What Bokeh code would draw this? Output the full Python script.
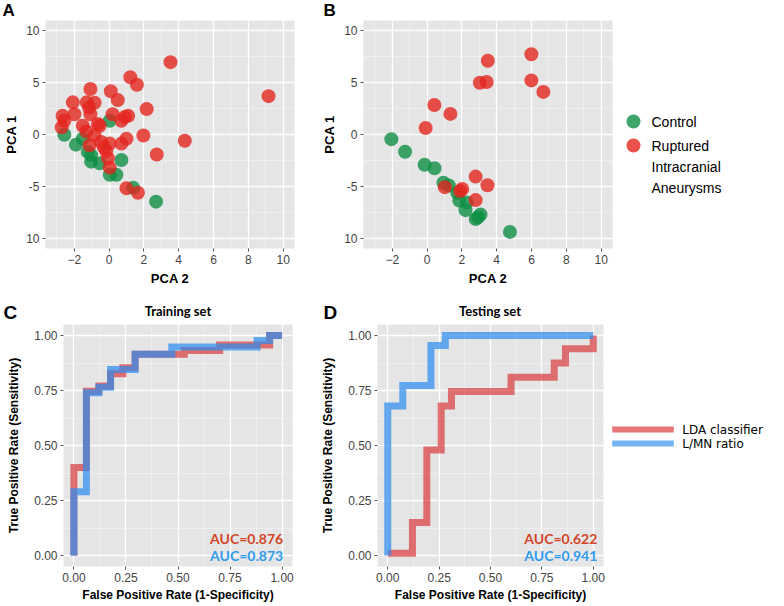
from bokeh.plotting import figure
from bokeh.layouts import row, column
from bokeh.models import Range1d, FixedTicker, Label
from bokeh.core.properties import value
from bokeh.embed import file_html
from bokeh.resources import INLINE

# ---------------- data ----------------
# Panel A (training set PCA): x = PCA 2, y = PCA 1
a_ctrl_x = [0.04, -2.57, -1.90, -1.51, -1.03, -1.03, -0.54, 0.71, 0.04, 0.42, 1.39, 2.70, -1.22]
a_ctrl_y = [1.33, -0.03, -0.98, -0.41, -1.99, -2.62, -2.78, -2.46, -3.89, -3.89, -5.15, -6.48, -1.68]
a_ria_x = [3.53, 9.16, 1.22, 1.60, -1.07, 0.10, 0.50, -2.08, -1.28, -0.83, 2.16, -2.67, -1.99,
           -1.07, -1.15, 0.20, 1.10, 0.90, 0.71, -2.57, -2.72, -1.51, -0.54, -0.64, -0.83, 1.97,
           4.35, 1.00, 0.71, 0.04, -0.45, 2.74, -0.16, -0.06, 0.04, 1.00, 1.66, -1.12, -1.30, -0.30]
a_ria_y = [6.98, 3.70, 5.53, 4.80, 4.39, 4.17, 3.32, 3.10, 3.10, 3.06, 2.45, 1.80, 1.96,
           1.96, 2.60, 1.96, 1.80, 1.70, 1.33, 1.33, 0.69, 0.85, 0.85, 1.01, -0.09, -0.09,
           -0.60, -0.41, -0.88, -0.88, -0.73, -1.93, -1.60, -2.30, -3.20, -5.18, -5.62, -1.04, 0.30, -1.20]

# Panel B (testing set PCA)
b_ctrl_x = [-2.05, -1.26, -0.14, 0.43, 0.94, 1.25, 1.73, 1.85, 2.28, 2.21, 2.79, 3.07, 2.93, 4.76]
b_ctrl_y = [-0.45, -1.66, -2.92, -3.25, -4.66, -4.91, -5.63, -6.38, -6.55, -7.30, -8.15, -7.72, -7.98, -9.40]
b_ria_x = [3.49, 5.99, 5.99, 6.68, 3.03, 3.42, 0.42, 1.34, -0.08, 2.79, 3.47, 1.02, 2.02, 1.90, 2.79]
b_ria_y = [7.12, 7.75, 5.22, 4.11, 5.00, 5.06, 2.85, 1.99, 0.63, -4.06, -4.90, -5.08, -5.25, -5.46, -6.33]

pca_x_ticks = [-2, 0, 2, 4, 6, 8, 10]
pca_x_minor = [-3, -1, 1, 3, 5, 7, 9]
pca_y_ticks = [-10, -5, 0, 5, 10]
pca_y_labels = ["10", "-5", "0", "5", "10"]
pca_y_minor = [-7.5, -2.5, 2.5, 7.5]
group_labels = ["Control", "Ruptured\nIntracranial\nAneurysms"]

# Panel C (training ROC)
c_lda_fpr = [0, 0, 0.06, 0.06, 0.12, 0.12, 0.176, 0.176, 0.235, 0.235, 0.294, 0.294, 0.53, 0.53, 0.70, 0.70, 0.94, 0.94, 1.0]
c_lda_tpr = [0, 0.40, 0.40, 0.747, 0.747, 0.77, 0.77, 0.826, 0.826, 0.853, 0.853, 0.915, 0.915, 0.932, 0.932, 0.957, 0.957, 1.0, 1.0]
c_lmn_fpr = [0, 0, 0.06, 0.06, 0.12, 0.12, 0.176, 0.176, 0.294, 0.294, 0.47, 0.47, 0.88, 0.88, 0.94, 0.94, 1.0]
c_lmn_tpr = [0, 0.29, 0.29, 0.74, 0.74, 0.765, 0.765, 0.845, 0.845, 0.915, 0.915, 0.948, 0.948, 0.977, 0.977, 1.0, 1.0]
c_auc = [0.876, 0.873]

# Panel D (testing ROC)
d_lda_fpr = [0, 0.12, 0.12, 0.19, 0.19, 0.26, 0.26, 0.31, 0.31, 0.60, 0.60, 0.81, 0.81, 0.865, 0.865, 1.0, 1.0]
d_lda_tpr = [0.01, 0.01, 0.15, 0.15, 0.48, 0.48, 0.68, 0.68, 0.745, 0.745, 0.81, 0.81, 0.875, 0.875, 0.94, 0.94, 1.0]
d_lmn_fpr = [0, 0, 0.073, 0.073, 0.21, 0.21, 0.28, 0.28, 1.0]
d_lmn_tpr = [0, 0.68, 0.68, 0.773, 0.773, 0.955, 0.955, 1.0, 1.0]
d_auc = [0.622, 0.941]

roc_ticks = [0, 0.25, 0.5, 0.75, 1.0]
roc_labels = ["0.00", "0.25", "0.50", "0.75", "1.00"]
roc_minor = [0.125, 0.375, 0.625, 0.875]
roc_series = ["LDA classifier", "L/MN ratio"]
panel_titles = ["Training set", "Testing set"]
panel_letters = ["A", "B", "C", "D"]

# ---------------- styles ----------------
GREEN = "#0F8F45"
RED = "#E3261E"
LDA_C = "#D92B30"
LMN_C = "#2A8CF0"
AUC_COLORS = ["#D2452B", "#2F9BEF"]
PANEL_BG = "#E5E5E5"
TICK_FONT = "Liberation Sans"

# layout (px)
R1_STRIP, R1_FRAME, R1_BOT = 20, 228, 49
R2_STRIP, R2_FRAME, R2_BOT = 27, 242, 38


def make_fig(width, height, xr, yr, mbl, mbr, mbt, mbb):
    p = figure(width=width, height=height, x_range=Range1d(*xr), y_range=Range1d(*yr),
               toolbar_location=None, output_backend="svg", title=None,
               min_border_left=mbl, min_border_right=mbr,
               min_border_top=mbt, min_border_bottom=mbb)
    p.background_fill_color = PANEL_BG
    p.border_fill_color = "white"
    p.outline_line_color = None
    for ax in (p.xaxis[0], p.yaxis[0]):
        ax.axis_line_color = None
        ax.major_tick_line_color = "#555555"
        ax.major_tick_out = 3
        ax.major_tick_in = 0
        ax.minor_tick_out = 0
        ax.minor_tick_in = 0
        ax.major_label_text_font = TICK_FONT
        ax.major_label_text_font_size = "12px"
        ax.major_label_text_color = "#444444"
        ax.major_label_standoff = 3
        ax.axis_label_text_font = TICK_FONT
        ax.axis_label_text_font_style = "bold"
        ax.axis_label_text_color = "black"
    for g in (p.xgrid[0], p.ygrid[0]):
        g.grid_line_color = "white"
        g.grid_line_width = 1.3
        g.minor_grid_line_color = "#F4F4F4"
        g.minor_grid_line_width = 0.7
    return p


def blank(width, height, top=0, bot=0):
    # pixel-unit ranges so that texts/legend marks are placed by pixel offset
    p = figure(width=width, height=top + height + bot, x_range=Range1d(0, width),
               y_range=Range1d(top + height, top),
               toolbar_location=None, output_backend="svg", title=None,
               min_border_left=0, min_border_right=0, min_border_top=top, min_border_bottom=bot,
               x_axis_location=None, y_axis_location=None)
    p.xgrid.visible = False
    p.ygrid.visible = False
    p.outline_line_color = None
    p.background_fill_color = "white"
    p.border_fill_color = "white"
    return p


def strip(width, height, letter, lx, ly, size, title=None, tx=None, ty=None):
    s = blank(width, height)
    s.text([lx], [ly], text=[letter], text_baseline="middle", text_align="left",
           text_font=value(TICK_FONT), text_font_style="bold", text_font_size=size,
           text_color="black")
    if title is not None:
        s.text([tx], [ty], text=[title], text_baseline="middle", text_align="center",
               text_font=value("Lato"), text_font_style="bold", text_font_size="13px",
               text_color="black")
    return s


def pca_fig(width, mbl, mbr, cx, cy, rx, ry):
    p = make_fig(width, R1_FRAME + R1_BOT, (-3.65, 10.65), (-11, 11), mbl, mbr, 0, R1_BOT)
    p.xaxis.ticker = FixedTicker(ticks=pca_x_ticks, minor_ticks=pca_x_minor)
    p.yaxis.ticker = FixedTicker(ticks=pca_y_ticks, minor_ticks=pca_y_minor)
    p.yaxis.major_label_overrides = {t: l for t, l in zip(pca_y_ticks, pca_y_labels)}
    p.xaxis.axis_label = "PCA 2"
    p.yaxis.axis_label = "PCA 1"
    p.xaxis.axis_label_text_font_size = "13px"
    p.yaxis.axis_label_text_font_size = "13px"
    p.xaxis.axis_label_standoff = 4
    p.yaxis.axis_label_standoff = 4
    p.scatter(cx, cy, size=14, color=GREEN, alpha=0.8, line_color=None)
    p.scatter(rx, ry, size=14, color=RED, alpha=0.8, line_color=None)
    return p


def roc_fig(width, mbl, mbr, lda, lmn, auc, auc_x):
    p = make_fig(width, R2_FRAME + R2_BOT, (-0.05, 1.05), (-0.05, 1.05), mbl, mbr, 0, R2_BOT)
    p.xaxis.ticker = FixedTicker(ticks=roc_ticks, minor_ticks=roc_minor)
    p.yaxis.ticker = FixedTicker(ticks=roc_ticks, minor_ticks=roc_minor)
    ov = {t: l for t, l in zip(roc_ticks, roc_labels)}
    p.xaxis.major_label_overrides = ov
    p.yaxis.major_label_overrides = ov
    p.xaxis.axis_label = "False Positive Rate (1-Specificity)"
    p.yaxis.axis_label = "True Positive Rate (Sensitivity)"
    p.xaxis.axis_label_text_font_size = "12px"
    p.yaxis.axis_label_text_font_size = "12px"
    p.xaxis.axis_label_standoff = 3
    p.yaxis.axis_label_standoff = 10
    p.line(lda[0], lda[1], line_color=LDA_C, line_alpha=0.65, line_width=7, line_join="miter")
    p.line(lmn[0], lmn[1], line_color=LMN_C, line_alpha=0.7, line_width=7, line_join="miter")
    for v, yy, col in zip(auc, [0.077, 0.0], AUC_COLORS):
        p.add_layout(Label(x=auc_x, y=yy, text=f"AUC={v:.3f}", text_align="right",
                           text_baseline="middle", text_font="Lato", text_font_style="bold",
                           text_font_size="14px", text_color=col))
    return p


# ---------------- row 1 ----------------
pA = pca_fig(318, 45, 24, a_ctrl_x, a_ctrl_y, a_ria_x, a_ria_y)
sA = strip(318, R1_STRIP, panel_letters[0], 2, 10, "17px")
pB = pca_fig(302, 45, 8, b_ctrl_x, b_ctrl_y, b_ria_x, b_ria_y)
sB = strip(302, R1_STRIP, panel_letters[1], 5, 10, "17px")

legA = blank(164, R1_FRAME, R1_STRIP, R1_BOT)
legA.scatter([13, 13], [121, 145], size=14, color=[GREEN, RED], alpha=0.8, line_color=None)
legA.text([31, 31], [113, 137], text=group_labels, text_baseline="top", text_align="left",
          text_font=value(TICK_FONT), text_font_size="14px", text_color="black",
          text_line_height=1.32)

# ---------------- row 2 ----------------
pC = roc_fig(318, 63, 26, (c_lda_fpr, c_lda_tpr), (c_lmn_fpr, c_lmn_tpr), c_auc, 1.005)
sC = strip(318, R2_STRIP, panel_letters[2], 3, 15, "19px", panel_titles[0], 177.5, 13)
pD = roc_fig(292, 58, 7, (d_lda_fpr, d_lda_tpr), (d_lmn_fpr, d_lmn_tpr), d_auc, 1.02)
sD = strip(292, R2_STRIP, panel_letters[3], 5, 15, "19px", panel_titles[1], 171.5, 13)

legD = blank(174, R2_FRAME, R2_STRIP, R2_BOT)
legD.segment(x0=[1.7, 1.7], y0=[132, 146], x1=[63.3, 63.3], y1=[132, 146],
             line_color=[LDA_C, LMN_C], line_alpha=0.65, line_width=6)
legD.text([71.7, 71.7], [132, 146], text=roc_series, text_baseline="middle", text_align="left",
          text_font=value("DejaVu Sans"), text_font_size="12px", text_color="black")

layout = column(
    row(column(sA, row(pA)), column(sB, row(pB)), legA),
    row(column(sC, row(pC)), column(sD, row(pD)), legD),
)

open("out.html", "w").write(file_html(layout, INLINE))
